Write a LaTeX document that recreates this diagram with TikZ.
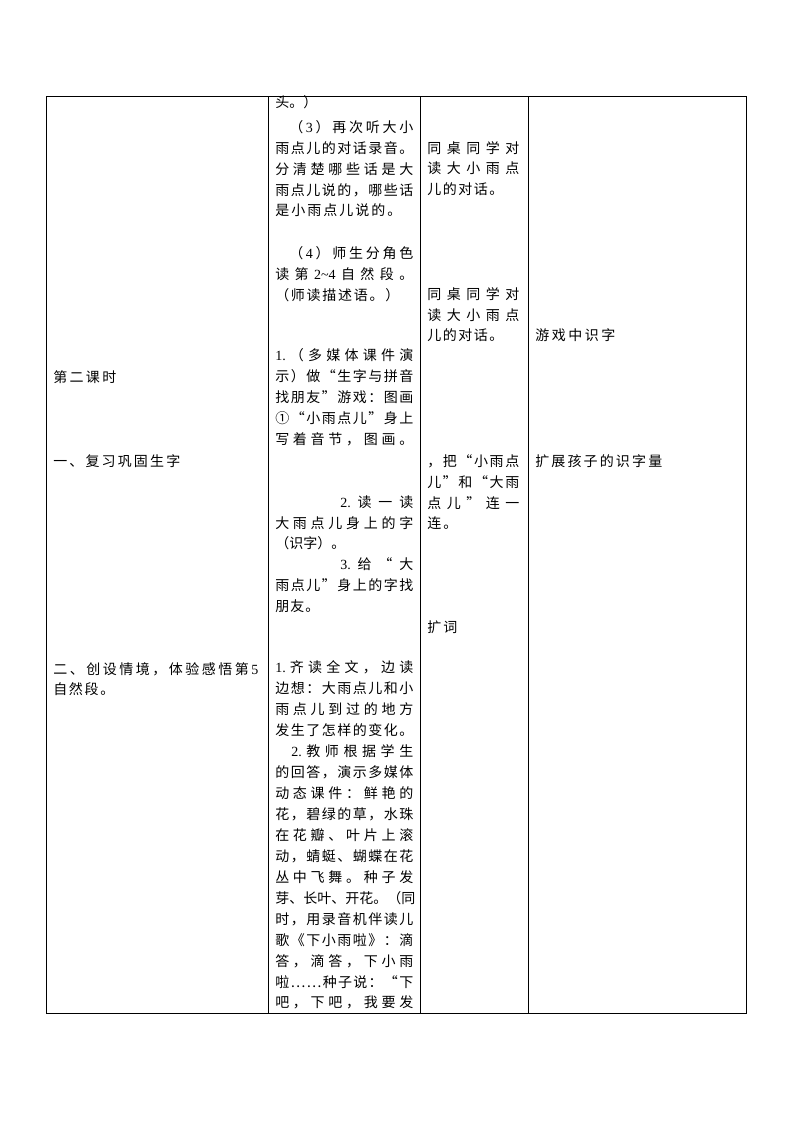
\documentclass[tikz,border=0pt]{standalone}
\usepackage{fontspec}
\setmainfont{Noto Sans CJK SC}
\newfontfamily\lat{Liberation Serif}
\newcommand\D[1]{{\lat #1}}
\def\spEnd{}
\def\spEndT{\spEnd}
\def\spA#1{#1\spB}
\def\spB#1{\def\spT{#1}\ifx\spT\spEndT\else\hfil#1\expandafter\spB\fi}
\newcommand\spr[2]{\makebox[\dimexpr 0.75pt*#1\relax][s]{\spA#2\spEnd}}
\newcommand\TL[5]{\node[tx] (#1) at (#2,#3+5) {\spr{#4}{#5}};}
\begin{document}
\begin{tikzpicture}[x=0.75pt,y=-0.75pt,
  tx/.style={anchor=base west, inner sep=0pt, font=\fontsize{10.5}{12}\selectfont},
  grid/.style={line width=0.75pt, black}]
\useasboundingbox (0,0) rectangle (794,1123);
% table frame
\coordinate (tl) at (46.5,96.5);
\coordinate (br) at (746.5,1013);
\draw[grid] (tl) rectangle (br);
\draw[grid] (268.5,96.5) -- (268.5,1013);
\draw[grid] (420.5,96.5) -- (420.5,1013);
\draw[grid] (528.5,96.5) -- (528.5,1013);
% column 1
\TL{a1}{53}{377}{63}{第二课时}
\TL{a2}{53}{461}{127}{一、复习巩固生字}
\TL{a3}{53}{669}{205}{二、创设情境，体验感悟第{\D{5}}}
\TL{a4}{53}{689}{61}{自然段。}
% column 2
\TL{b1}{275}{103}{42}{头。）}
\TL{b2}{289}{128}{124}{（{\D{3}}）再次听大小}
\TL{b3}{275}{149}{138}{雨点儿的对话录音。}
\TL{b4}{275}{170}{138}{分清楚哪些话是大}
\TL{b5}{275}{191}{138}{雨点儿说的，哪些话}
\TL{b6}{275}{211}{126}{是小雨点儿说的。}
\TL{b7}{289}{253}{124}{（{\D{4}}）师生分角色}
\TL{b8}{275}{274}{138}{读第{\D{2\textasciitilde4}}自然段。}
\TL{b9}{275}{295}{124}{（师读描述语。）}
\TL{b10}{275}{355}{138}{{\D{1.}}（多媒体课件演}
\TL{b11}{275}{376}{138}{示）做“生字与拼音}
\TL{b12}{275}{397}{138}{找朋友”游戏：图画}
\TL{b13}{275}{418}{138}{①“小雨点儿”身上}
\TL{b14}{275}{439}{138}{写着音节，图画。}
\TL{b15}{340}{502}{73}{{\D{2.}}读一读}
\TL{b16}{275}{523}{138}{大雨点儿身上的字}
\TL{b17}{275}{543}{68}{（识字）。}
\TL{b18}{340}{564}{73}{{\D{3.}}给“大}
\TL{b19}{275}{585}{138}{雨点儿”身上的字找}
\TL{b20}{275}{606}{44}{朋友。}
\TL{c1}{275}{667}{138}{{\D{1.}}齐读全文，边读}
\TL{c2}{275}{688}{138}{边想：大雨点儿和小}
\TL{c3}{275}{709}{138}{雨点儿到过的地方}
\TL{c4}{275}{730}{138}{发生了怎样的变化。}
\TL{c5}{291}{751}{122}{{\D{2.}}教师根据学生}
\TL{c6}{275}{772}{138}{的回答，演示多媒体}
\TL{c7}{275}{793}{138}{动态课件：鲜艳的}
\TL{c8}{275}{814}{138}{花，碧绿的草，水珠}
\TL{c9}{275}{835}{138}{在花瓣、叶片上滚}
\TL{c10}{275}{856}{138}{动，蜻蜓、蝴蝶在花}
\TL{c11}{275}{877}{138}{丛中飞舞。种子发}
\TL{c12}{275}{898}{138}{芽、长叶、开花。（同}
\TL{c13}{275}{919}{138}{时，用录音机伴读儿}
\TL{c14}{275}{940}{138}{歌《下小雨啦》：滴}
\TL{c15}{275}{961}{138}{答，滴答，下小雨}
\TL{c16}{275}{982}{138}{啦……种子说：“下}
\TL{c17}{275}{1002}{138}{吧，下吧，我要发}
% column 3
\TL{d1}{427}{149}{92}{同桌同学对}
\TL{d2}{427}{169}{92}{读大小雨点}
\TL{d3}{427}{190}{76}{儿的对话。}
\TL{d4}{427}{294}{92}{同桌同学对}
\TL{d5}{427}{315}{92}{读大小雨点}
\TL{d6}{427}{335}{76}{儿的对话。}
\TL{d7}{427}{461}{92}{，把“小雨点}
\TL{d8}{427}{482}{92}{儿”和“大雨}
\TL{d9}{427}{503}{92}{点儿”连一}
\TL{d10}{427}{523}{30}{连。}
\TL{d11}{427}{627}{30}{扩词}
% column 4
\TL{e1}{535}{335}{80}{游戏中识字}
\TL{e2}{535}{461}{127}{扩展孩子的识字量}
\end{tikzpicture}
\end{document}
